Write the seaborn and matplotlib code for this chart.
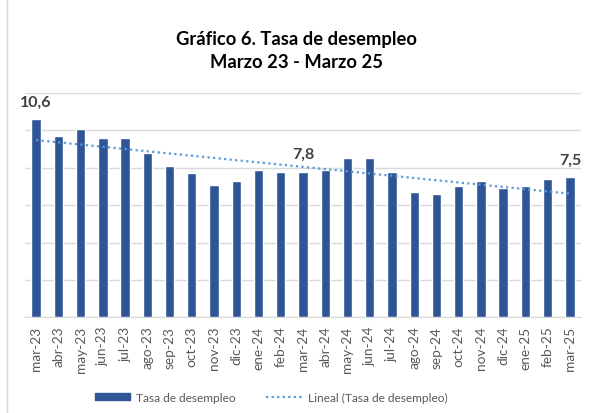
import numpy as np
import pandas as pd
import matplotlib
matplotlib.use('Agg')
import matplotlib.pyplot as plt
import seaborn as sns
from matplotlib.patches import Patch
from matplotlib.lines import Line2D

meses = ['mar-23', 'abr-23', 'may-23', 'jun-23', 'jul-23', 'ago-23', 'sep-23', 'oct-23',
         'nov-23', 'dic-23', 'ene-24', 'feb-24', 'mar-24', 'abr-24', 'may-24', 'jun-24',
         'jul-24', 'ago-24', 'sep-24', 'oct-24', 'nov-24', 'dic-24', 'ene-25', 'feb-25', 'mar-25']
tasa = [10.6, 9.7, 10.1, 9.6, 9.6, 8.8, 8.1, 7.7, 7.1, 7.3, 7.9, 7.8, 7.8,
        7.9, 8.5, 8.5, 7.8, 6.7, 6.6, 7.0, 7.3, 6.9, 7.0, 7.4, 7.5]
etiquetas = {0: '10,6', 12: '7,8', 24: '7,5'}

sns.set_style('white')
plt.rcParams['font.family'] = ['Lato', 'DejaVu Sans']

df = pd.DataFrame({'Mes': meses, 'Tasa': tasa})

fig = plt.figure(figsize = (5.94, 4.14), dpi = 100)
ax = fig.add_axes([25 / 594, 1 - 318.3 / 414, 556 / 594, (318.3 - 94) / 414])

sns.barplot(data = df, x = 'Mes', y = 'Tasa', color = '#2F5597', width = 0.42,
            saturation = 1, ax = ax, zorder = 3)

# Linea de tendencia lineal
x = np.arange(len(tasa))
coef = np.polyfit(x, tasa, 1)
ax.plot(x, np.polyval(coef, x), color = '#5B9BD5', linestyle = (0, (1, 1.5)),
        linewidth = 1.6, zorder = 4)

for i, txt in etiquetas.items():
    ax.text(i, tasa[i] + 0.55, txt, ha = 'center', va = 'bottom', fontsize = 11.5,
            fontweight = 'bold', color = '#404040')

ax.set_ylim(0, 12)
ax.set_xlim(-0.5, len(tasa) - 0.5)
ax.set_yticks(np.arange(0, 13, 2))
ax.set_yticklabels([])
ax.yaxis.grid(True, color = '#D9D9D9', linewidth = 1)
ax.set_axisbelow(True)
ax.tick_params(axis = 'y', length = 0)
ax.tick_params(axis = 'x', length = 0, labelsize = 9.8, labelcolor = '#595959',
               rotation = 90, pad = 6)
ax.set_xlabel('')
ax.set_ylabel('')
for s in ['top', 'right', 'left']:
    ax.spines[s].set_visible(False)
ax.spines['bottom'].set_color('#D9D9D9')

fig.text(0.5, 1 - 40 / 414, 'Gráfico 6. Tasa de desempleo', ha = 'center', va = 'center',
         fontsize = 13.2, fontweight = 'bold', color = '#000000')
fig.text(0.5, 1 - 62 / 414, 'Marzo 23 - Marzo 25', ha = 'center', va = 'center',
         fontsize = 13.2, fontweight = 'bold', color = '#000000')

handles = [Patch(color = '#2F5597'),
           Line2D([0], [0], color = '#5B9BD5', linestyle = (0, (1, 1.5)), linewidth = 1.6)]
fig.legend(handles, ['Tasa de desempleo', 'Lineal (Tasa de desempleo)'],
           loc = 'center', bbox_to_anchor = (271 / 594, 1 - 398 / 414), ncol = 2, frameon = False,
           fontsize = 8.6, labelcolor = '#595959', handlelength = 3.0, handleheight = 0.5,
           columnspacing = 2.5, handletextpad = 0.5)

fig.add_artist(Line2D([7 / 594, 7 / 594], [0, 1], color = '#D9D9D9', linewidth = 1))

fig.savefig('out.png', dpi = 100)
